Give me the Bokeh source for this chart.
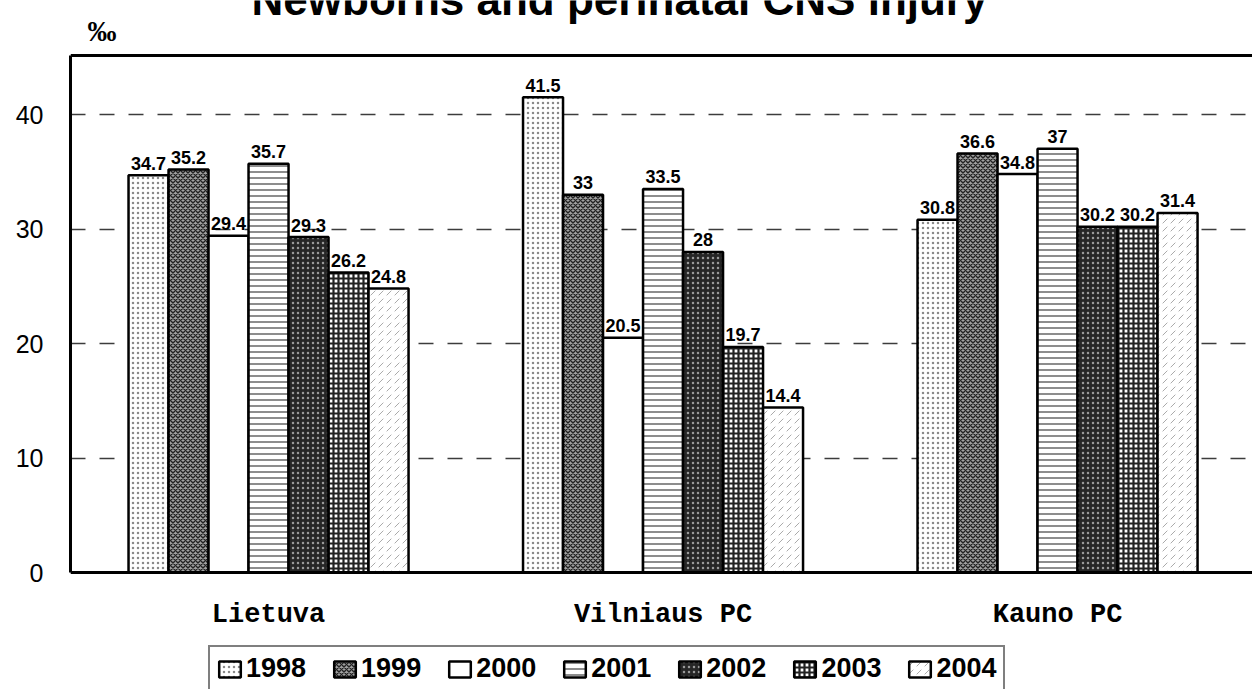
from bokeh.plotting import figure
from bokeh.models import (Range1d, FixedTicker, Legend, LegendItem,
                          Label, Span, ColumnDataSource)
from bokeh.core.properties import value
from bokeh.embed import file_html
from bokeh.resources import INLINE

# ---------------- data ----------------
groups = ["Lietuva", "Vilniaus PC", "Kauno PC"]
years = ["1998", "1999", "2000", "2001", "2002", "2003", "2004"]
v1998 = [34.7, 41.5, 30.8]
v1999 = [35.2, 33.0, 36.6]
v2000 = [29.4, 20.5, 34.8]
v2001 = [35.7, 33.5, 37.0]
v2002 = [29.3, 28.0, 30.2]
v2003 = [26.2, 19.7, 30.2]
v2004 = [24.8, 14.4, 31.4]
y_ticks = [0, 10, 20, 30, 40]
title_text = "Newborns and perinatal CNS injury"
unit_text = "‰"

series = [v1998, v1999, v2000, v2001, v2002, v2003, v2004]

# ---------------- styles ----------------
styles = [
    dict(fill_color="white", hatch_pattern="dot", hatch_color="#8a8a8a", hatch_scale=5, hatch_weight=1),
    dict(fill_color="#a0a0a0", hatch_pattern="diagonal_cross", hatch_color="#222222", hatch_scale=5, hatch_weight=1.4),
    dict(fill_color="white"),
    dict(fill_color="white", hatch_pattern="horizontal_line", hatch_color="#666666", hatch_scale=6, hatch_weight=1.5),
    dict(fill_color="#262626", hatch_pattern="dot", hatch_color="#9a9a9a", hatch_scale=5, hatch_weight=1),
    dict(fill_color="white", hatch_pattern="cross", hatch_color="#222222", hatch_scale=5, hatch_weight=2.2),
    dict(fill_color="white", hatch_pattern="right_diagonal_dash", hatch_color="#aaaaaa", hatch_scale=8, hatch_weight=1),
]

W, H = 1252, 689
left_px = 70          # left edge of box (px)
zero_px = 572         # y = 0 line (px from top)
px_per_x = 394.5
px_per_y = 11.45

bw = 0.1014
x_start = -0.502
x_end = x_start + (W - left_px) / px_per_x
y_end = zero_px / px_per_y
y_start = -(H - zero_px) / px_per_y
y_box_top = 45.15          # top edge of the plotting box

p = figure(width=W, height=H, output_backend="svg", toolbar_location=None,
           x_range=Range1d(x_start, x_end), y_range=Range1d(y_start, y_end),
           min_border_left=left_px, min_border_right=0, min_border_top=0, min_border_bottom=0)
p.outline_line_color = None
p.background_fill_color = "white"
p.border_fill_color = "white"

# grid
p.xgrid.visible = False
p.ygrid.ticker = FixedTicker(ticks=y_ticks)
p.ygrid.grid_line_color = "#3c3c3c"
p.ygrid.grid_line_width = 1.5
p.ygrid.grid_line_dash = "15 14"

# axes
p.yaxis.ticker = FixedTicker(ticks=y_ticks)
p.yaxis.bounds = (0, y_box_top)
p.yaxis.axis_line_width = 3
p.yaxis.axis_line_color = "black"
p.yaxis.major_tick_out = 0
p.yaxis.major_tick_in = 0
p.yaxis.minor_tick_out = 0
p.yaxis.minor_tick_in = 0
p.yaxis.major_label_standoff = 27
p.yaxis.major_label_text_font = "Liberation Sans"
p.yaxis.major_label_text_font_size = "25px"
p.yaxis.major_label_text_color = "black"

p.xaxis.fixed_location = 0
p.xaxis.ticker = FixedTicker(ticks=list(range(len(groups))))
p.xaxis.major_label_overrides = {i: g for i, g in enumerate(groups)}
p.xaxis.axis_line_width = 3
p.xaxis.axis_line_color = "black"
p.xaxis.major_tick_out = 0
p.xaxis.major_tick_in = 0
p.xaxis.minor_tick_out = 0
p.xaxis.minor_tick_in = 0
p.xaxis.major_label_standoff = 27
p.xaxis.major_label_text_font = "Liberation Mono"
p.xaxis.major_label_text_font_style = "bold"
p.xaxis.major_label_text_font_size = "27px"
p.xaxis.major_label_text_color = "black"

# top edge of the box
p.add_layout(Span(location=y_box_top, dimension="width", line_color="black", line_width=3))

# bars
renderers = []
sources = []
for i, (yr, vals) in enumerate(zip(years, series)):
    xs = [g + (i - 3) * bw for g in range(len(groups))]
    src = ColumnDataSource(dict(x=xs, top=vals, label=[f"{v:g}" for v in vals]))
    r = p.vbar(x="x", top="top", bottom=0, width=bw, source=src,
               line_color="black", line_width=2.5, **styles[i])
    renderers.append(r)
    sources.append(src)

for src in sources:
    p.text(x="x", y="top", text="label", source=src, y_offset=-12,
           text_align="center", text_baseline="alphabetic",
           text_font=value("Liberation Sans"), text_font_style="bold",
           text_font_size="18px", text_color="black")

# title and unit (placed in the band above the box)
p.add_layout(Label(x=x_start + (619 - left_px) / px_per_x, y=(zero_px + 1) / px_per_y,
                   text=title_text, text_align="center",
                   text_baseline="alphabetic", text_font="Liberation Sans",
                   text_font_style="bold", text_font_size="44px", text_color="black"))
p.add_layout(Label(x=x_start + (87 - left_px) / px_per_x, y=(zero_px - 30) / px_per_y,
                   text=unit_text, text_align="left",
                   text_baseline="alphabetic", text_font="Liberation Serif",
                   text_font_style="bold", text_font_size="29px", text_color="black"))

legend = Legend(items=[LegendItem(label=yr, renderers=[r]) for yr, r in zip(years, renderers)],
                location=(208 - left_px, -3), orientation="horizontal",
                border_line_color="black", border_line_width=2,
                padding=6, spacing=25, margin=0,
                glyph_width=27, glyph_height=20, label_standoff=3,
                label_text_font="Liberation Sans", label_text_font_style="bold",
                label_text_font_size="27px", label_text_color="black",
                background_fill_color="white", background_fill_alpha=1)
p.add_layout(legend)

open("out.html", "w").write(file_html(p, INLINE))
